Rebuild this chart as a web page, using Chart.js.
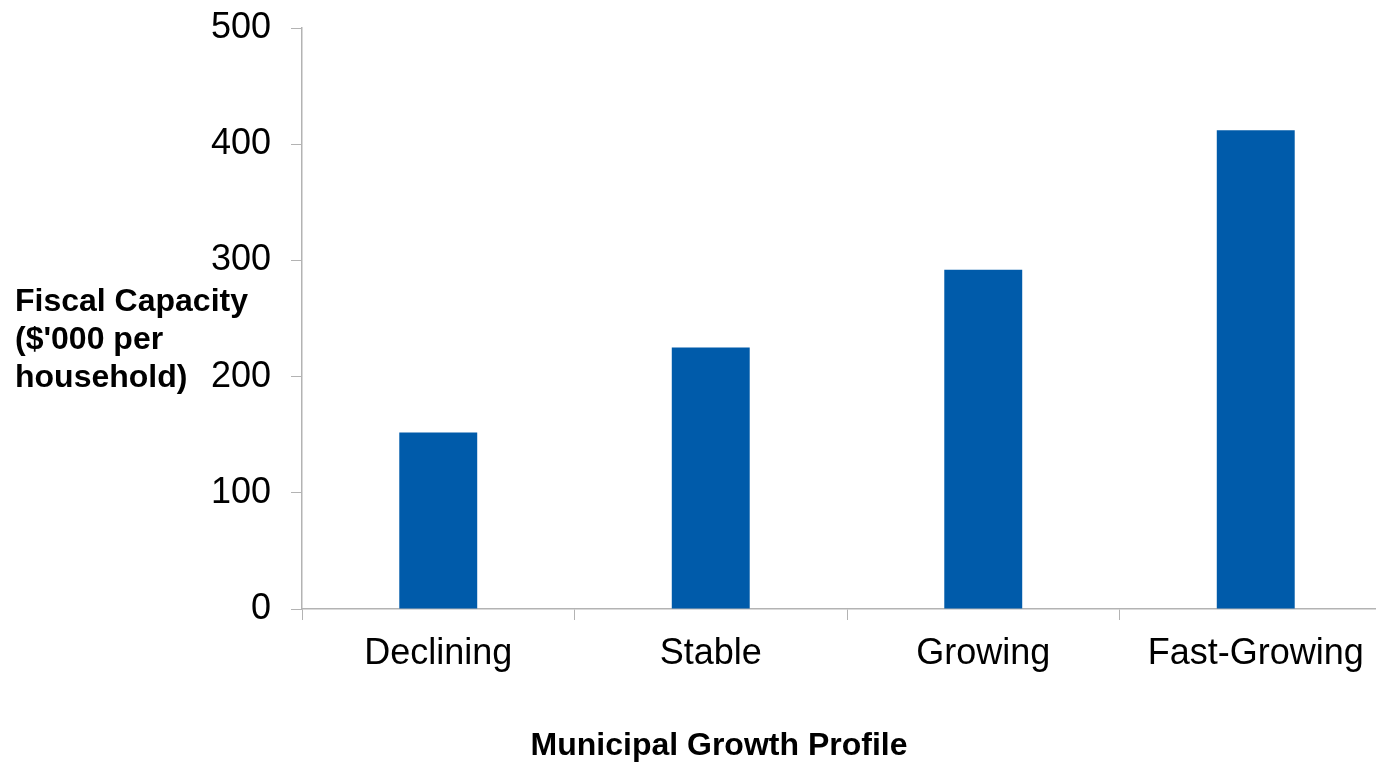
<!DOCTYPE html>
<html>
<head>
<meta charset="utf-8">
<script src="https://cdn.jsdelivr.net/npm/chart.js@4/dist/chart.umd.min.js"></script>
<style>
  html, body { margin: 0; padding: 0; background: #fff; overflow: hidden; }
  #wrap { width: 1392px; height: 762px; }
</style>
</head>
<body>
<div id="wrap"><canvas id="fiscalChart"></canvas></div>
<script>
const categories = ['Declining', 'Stable', 'Growing', 'Fast-Growing'];
const fiscalCapacity = [152, 225, 292, 412];
const yTicks = [0, 100, 200, 300, 400, 500];
const yTitleLines = ['Fiscal Capacity', "($'000 per", 'household)'];
const xTitle = 'Municipal Growth Profile';

// axis titles sit horizontally, so draw them by hand
const titlesPlugin = {
  id: 'titles',
  afterDraw(chart) {
    const ctx = chart.ctx;
    ctx.save();
    ctx.fillStyle = '#000';
    ctx.font = 'bold 32px "Liberation Sans", Arial, sans-serif';
    ctx.textBaseline = 'middle';
    ctx.textAlign = 'left';
    yTitleLines.forEach((line, i) => ctx.fillText(line, 15, 302 + i * 38));
    ctx.textAlign = 'center';
    ctx.fillText(xTitle, 719, 746);
    ctx.restore();
  }
};

const axisColor = '#b3b3b3';
const tickFont = { family: '"Liberation Sans", Arial, sans-serif', size: 36 };

new Chart(document.getElementById('fiscalChart'), {
  type: 'bar',
  data: {
    labels: categories,
    datasets: [{
      data: fiscalCapacity,
      backgroundColor: '#005baa',
      barPercentage: 0.286,
      categoryPercentage: 1
    }]
  },
  options: {
    responsive: true,
    maintainAspectRatio: false,
    animation: false,
    layout: { padding: { top: 28, left: 0, right: 0, bottom: 0 } },
    plugins: { legend: { display: false }, tooltip: { enabled: false } },
    scales: {
      x: {
        afterFit: s => { s.height = 153; s.paddingLeft = 0; s.paddingRight = 0; },
        grid: { drawOnChartArea: false, drawTicks: true, tickLength: 11, color: axisColor, offset: true },
        border: { color: axisColor, width: 1.5 },
        ticks: { color: '#000', padding: 12, font: tickFont }
      },
      y: {
        min: 0,
        max: 500,
        afterFit: s => { s.width = 302; s.paddingTop = 0; s.paddingBottom = 0; },
        afterBuildTicks: s => { s.ticks = yTicks.map(v => ({ value: v })); },
        grid: { drawOnChartArea: false, drawTicks: true, tickLength: 11, color: axisColor },
        border: { color: axisColor, width: 1.5 },
        ticks: { color: '#000', padding: 20, font: tickFont }
      }
    }
  },
  plugins: [titlesPlugin]
});
</script>
</body>
</html>
